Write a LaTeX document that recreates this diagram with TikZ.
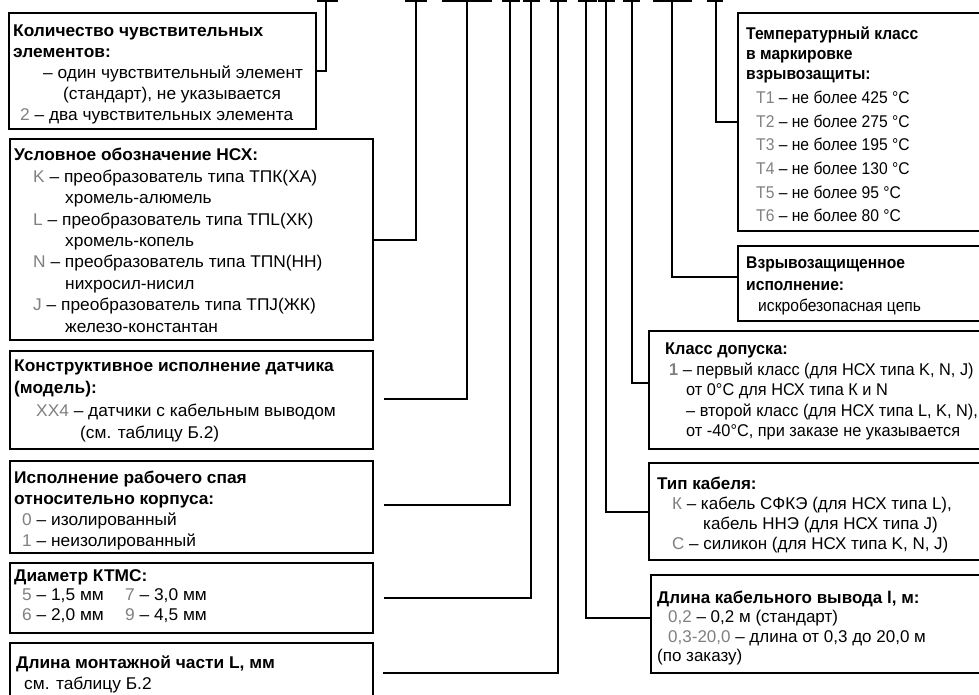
\documentclass[tikz,border=0pt]{standalone}
\usepackage{fontspec}
\setmainfont{Liberation Sans}
\newfontfamily\fwide[FakeStretch=1.02]{Liberation Sans}
\newfontfamily\fmid[FakeStretch=0.96]{Liberation Sans}
\newfontfamily\fnarrow[FakeStretch=0.92]{Liberation Sans}
\definecolor{codegray}{gray}{0.5}
\newcommand{\gc}[1]{\textcolor{codegray}{#1}}
\begin{document}
\begin{tikzpicture}[x=1pt,y=-1pt,
  frame/.style={draw, line width=2pt, inner sep=0pt, anchor=north west},
  conn/.style={line width=2pt},
  bar/.style={line width=2.4pt},
  txt/.style={anchor=base west, inner sep=0pt}]
\path[use as bounding box] (0,0) rectangle (979,695);
\fill[white] (0,0) rectangle (979,695);
\clip (0,0) rectangle (979,695);

% ---------- left boxes ----------
\node[frame, minimum width=307pt, minimum height=116pt] (b1) at (8,12) {};
\node[frame, minimum width=363pt, minimum height=201pt] (b2) at (9,138) {};
\node[frame, minimum width=363pt, minimum height=98pt]  (b3) at (9,350) {};
\node[frame, minimum width=363pt, minimum height=92pt]  (b4) at (9,460) {};
\node[frame, minimum width=363pt, minimum height=70pt]  (b5) at (9,562) {};
\node[frame, minimum width=363pt, minimum height=80pt]  (b6) at (9,642) {};

% ---------- right boxes ----------
\node[frame, minimum width=270pt, minimum height=218pt] (r1) at (737,12) {};
\node[frame, minimum width=270pt, minimum height=75pt]  (r2) at (737,245) {};
\node[frame, minimum width=360pt, minimum height=118pt] (r3) at (648,330) {};
\node[frame, minimum width=360pt, minimum height=97pt]  (r4) at (648,462) {};
\node[frame, minimum width=360pt, minimum height=98pt]  (r5) at (650,574) {};

% ---------- texts ----------
\node[txt, font=\fwide\fontsize{17}{21}\selectfont] (b1t) at (13,37) {\begin{tabular}[t]{@{}l@{}}
\textbf{Количество чувствительных}\\
\textbf{элементов:}\\
\hspace*{30pt}– один чувствительный элемент\\
\hspace*{50pt}(стандарт), не указывается\\
\hspace*{7pt}\gc{2} – два чувствительных элемента
\end{tabular}};

\node[txt, font=\fwide\fontsize{17}{21.4}\selectfont] (b2t) at (14,161) {\begin{tabular}[t]{@{}l@{}}
\textbf{Условное обозначение НСХ:}\\
\hspace*{19pt}\gc{K} – преобразователь типа ТПК(ХА)\\
\hspace*{51pt}хромель-алюмель\\
\hspace*{19pt}\gc{L} – преобразователь типа ТПL(ХК)\\
\hspace*{51pt}хромель-копель\\
\hspace*{19pt}\gc{N} – преобразователь типа ТПN(НН)\\
\hspace*{51pt}нихросил-нисил\\
\hspace*{19pt}\gc{J} – преобразователь типа ТПJ(ЖК)\\
\hspace*{51pt}железо-константан
\end{tabular}};

\node[txt, font=\fwide\fontsize{17}{22.5}\selectfont] (b3t) at (14,371) {\begin{tabular}[t]{@{}l@{}}
\textbf{Конструктивное исполнение датчика}\\
\textbf{(модель):}\\
\hspace*{22pt}\gc{XX4} – датчики с кабельным выводом\\
\hspace*{66pt}(см. таблицу Б.2)
\end{tabular}};

\node[txt, font=\fwide\fontsize{17}{21}\selectfont] (b4t) at (14,483) {\begin{tabular}[t]{@{}l@{}}
\textbf{Исполнение рабочего спая}\\
\textbf{относительно корпуса:}\\
\hspace*{8pt}\gc{0} – изолированный\\
\hspace*{8pt}\gc{1} – неизолированный
\end{tabular}};

\node[txt, font=\fwide\fontsize{17}{19.5}\selectfont] (b5t) at (14,581) {\begin{tabular}[t]{@{}l@{}}
\textbf{Диаметр КТМС:}\\
\hspace*{8pt}\makebox[103pt][l]{\gc{5} – 1,5 мм}\gc{7} – 3,0 мм\\
\hspace*{8pt}\makebox[103pt][l]{\gc{6} – 2,0 мм}\gc{9} – 4,5 мм
\end{tabular}};

\node[txt, font=\fwide\fontsize{17}{21}\selectfont] (b6t) at (16,668) {\begin{tabular}[t]{@{}l@{}}
\textbf{Длина монтажной части L, мм}\\
\hspace*{8pt}см. таблицу Б.2
\end{tabular}};

\node[txt, font=\fnarrow\fontsize{17}{20}\selectfont] (r1t) at (746,39.5) {\begin{tabular}[t]{@{}l@{}}
\textbf{Температурный класс}\\
\textbf{в маркировке}\\
\textbf{взрывозащиты:}\\[4pt]
\hspace*{10pt}\gc{T1} – не более 425 °C\\[3.7pt]
\hspace*{10pt}\gc{T2} – не более 275 °C\\[3.7pt]
\hspace*{10pt}\gc{T3} – не более 195 °C\\[3.7pt]
\hspace*{10pt}\gc{T4} – не более 130 °C\\[3.7pt]
\hspace*{10pt}\gc{T5} – не более 95 °C\\[3.7pt]
\hspace*{10pt}\gc{T6} – не более 80 °C
\end{tabular}};

\node[txt, font=\fnarrow\fontsize{17}{21.5}\selectfont] (r2t) at (746,268.5) {\begin{tabular}[t]{@{}l@{}}
\textbf{Взрывозащищенное}\\
\textbf{исполнение:}\\
\hspace*{12pt}искробезопасная цепь
\end{tabular}};

\node[txt, font=\fmid\fontsize{17}{20.5}\selectfont] (r3t) at (665,354.5) {\begin{tabular}[t]{@{}l@{}}
\textbf{Класс допуска:}\\
\hspace*{4pt}\textbf{\gc{1}} – первый класс (для НСХ типа K, N, J)\\
\hspace*{21pt}от 0°C для НСХ типа К и N\\
\hspace*{21pt}– второй класс (для НСХ типа L, K, N),\\
\hspace*{21pt}от -40°C, при заказе не указывается
\end{tabular}};

\node[txt, font=\fontsize{17}{20}\selectfont] (r4t) at (657,489.5) {\begin{tabular}[t]{@{}l@{}}
\textbf{Тип кабеля:}\\
\hspace*{15pt}\gc{К} – кабель СФКЭ (для НСХ типа L),\\
\hspace*{46pt}кабель ННЭ (для НСХ типа J)\\
\hspace*{15pt}\gc{С} – силикон (для НСХ типа K, N, J)
\end{tabular}};

\node[txt, font=\fontsize{17}{19.3}\selectfont] (r5t) at (657,603.5) {\begin{tabular}[t]{@{}l@{}}
\textbf{Длина кабельного вывода l, м:}\\
\hspace*{11pt}\gc{0,2} – 0,2 м (стандарт)\\
\hspace*{11pt}\gc{0,3-20,0} – длина от 0,3 до 20,0 м\\
(по заказу)
\end{tabular}};

% ---------- top code marks ----------
\coordinate (t1) at (326,1.2);  \coordinate (t2) at (416,1.2);
\coordinate (t3) at (467,1.2);  \coordinate (t4) at (510,1.2);
\coordinate (t5) at (531,1.2);  \coordinate (t6) at (558,1.2);
\coordinate (t7) at (586,1.2);  \coordinate (t8) at (606,1.2);
\coordinate (t9) at (632,1.2);  \coordinate (t10) at (672,1.2);
\coordinate (t11) at (716,1.2);
\draw[bar] ([xshift=-9pt]t1) -- ([xshift=12pt]t1);
\draw[bar] ([xshift=-11pt]t2) -- ([xshift=11pt]t2);
\draw[bar] ([xshift=-25pt]t3) -- ([xshift=25pt]t3);
\draw[bar] ([xshift=-8pt]t4) -- ([xshift=10pt]t4);
\draw[bar] ([xshift=-8pt]t5) -- ([xshift=9pt]t5);
\draw[bar] ([xshift=-8pt]t6) -- ([xshift=9pt]t6);
\draw[bar] ([xshift=-8pt]t7) -- ([xshift=11pt]t7);
\draw[bar] ([xshift=-8pt]t8) -- ([xshift=9pt]t8);
\draw[bar] ([xshift=-9pt]t9) -- ([xshift=8pt]t9);
\draw[bar] ([xshift=-19pt]t10) -- ([xshift=20pt]t10);
\draw[bar] ([xshift=-9pt]t11) -- ([xshift=7pt]t11);

% ---------- connectors ----------
\coordinate (e3) at (384,399);
\coordinate (e4) at (384,505);
\coordinate (e5) at (384,598);
\coordinate (e6) at (383,673);
\draw[conn] (t1) |- (b1.east);
\draw[conn] (t2) |- (b2.east);
\draw[conn] (t3) |- (e3);
\draw[conn] (t4) |- (e4);
\draw[conn] (t5) |- (e5);
\draw[conn] (t6) |- (e6);
\draw[conn] (t7) |- ([yshift=6pt]r5.west);
\draw[conn] (t8) |- (r4.west);
\draw[conn] (t9) |- ([yshift=7pt]r3.west);
\draw[conn] (t10) |- ([yshift=7pt]r2.west);
\draw[conn] (t11) |- (r1.west);
\end{tikzpicture}
\end{document}
